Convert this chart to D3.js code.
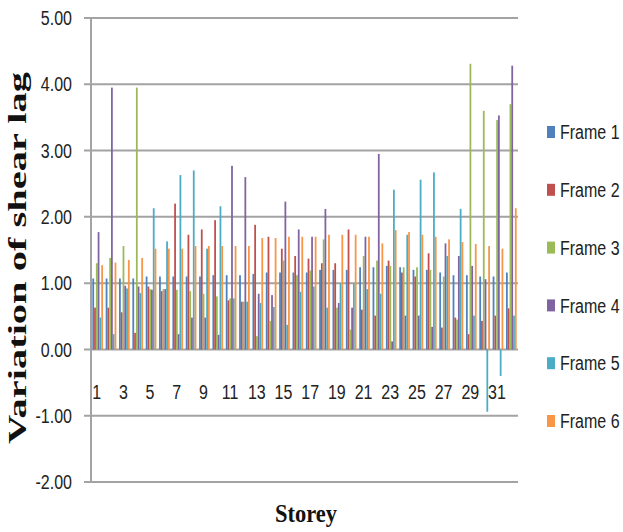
<!DOCTYPE html>
<html><head><meta charset="utf-8">
<script src="https://cdn.jsdelivr.net/npm/d3@7"></script>
<style>html,body{margin:0;padding:0;background:#fff;}svg{display:block;}</style>
</head><body>
<script>
const storeys = d3.range(1, 33).map(String);
const frames = ["Frame 1","Frame 2","Frame 3","Frame 4","Frame 5","Frame 6"];
const colors = ["#4F81BD","#C0504D","#9BBB59","#8064A2","#4BACC6","#F79646"];
const frame1 = [1.07,1.07,1.07,1.07,1.10,1.10,1.10,1.10,1.10,1.12,1.12,1.12,1.14,1.16,1.16,1.16,1.16,1.20,1.20,1.20,1.24,1.24,1.26,1.24,1.20,1.20,1.16,1.12,1.12,1.10,1.10,1.16];
const frame2 = [0.63,0.63,0.56,0.25,0.95,0.88,2.20,1.73,1.81,1.95,0.74,0.72,1.88,1.70,1.52,1.41,1.37,1.30,1.30,1.81,0.60,0.51,1.34,1.16,1.10,1.45,0.33,0.48,0.23,0.43,0.51,0.62];
const frame3 = [1.30,1.38,1.56,3.95,0.91,0.91,0.90,0.88,0.84,0.80,0.77,0.72,0.20,0.43,1.34,1.12,1.19,1.66,0.63,0.30,1.41,1.34,1.26,1.24,1.24,1.20,1.10,0.45,4.31,3.60,3.46,3.70];
const frame4 = [1.77,3.95,0.96,0.95,0.90,0.91,0.23,0.48,0.48,0.22,2.77,2.60,0.84,0.82,2.23,1.81,1.70,2.12,0.70,0.63,1.70,2.95,0.12,0.51,0.51,0.34,1.60,1.41,1.26,1.06,3.53,4.28];
const frame5 = [0.48,0.23,0.92,0.85,2.13,1.63,2.63,2.70,1.52,2.16,0.77,0.72,0.70,0.64,0.37,0.87,0.95,0.63,1.00,1.00,0.91,0.84,2.41,1.73,2.56,2.67,1.41,2.12,0.51,-0.94,-0.40,0.51];
const frame6 = [1.27,1.31,1.35,1.38,1.52,1.52,1.52,1.56,1.56,1.56,1.56,1.56,1.68,1.68,1.70,1.70,1.70,1.73,1.73,1.73,1.70,1.60,1.80,1.77,1.73,1.70,1.66,1.62,1.59,1.56,1.52,2.13];
const yTicks = [-2,-1,0,1,2,3,4,5];
const xTickLabels = storeys.filter((d,i)=> i % 2 === 0);
const series = [frame1,frame2,frame3,frame4,frame5,frame6];

const W = 623, H = 532;
const pLeft = 91, pRight = 518, pTop = 18, pBottom = 482;
const narrow = 0.8;
const svg = d3.select("body").append("svg").attr("width", W).attr("height", H);

const y = d3.scaleLinear().domain([-2,5]).range([pBottom, pTop]);
const x0 = d3.scaleBand().domain(storeys).range([pLeft, pRight]).paddingInner(0.2).paddingOuter(0.1);
const x1 = d3.scaleBand().domain(frames).range([0, x0.bandwidth()]);

// gridlines
svg.append("g").selectAll("line").data(yTicks).join("line")
  .attr("x1", pLeft - 7).attr("x2", pRight)
  .attr("y1", d => y(d)).attr("y2", d => y(d))
  .attr("stroke", "#a3a3a3").attr("stroke-width", 2);
// vertical axis line
svg.append("line").attr("x1", pLeft).attr("x2", pLeft).attr("y1", y(5)).attr("y2", y(-2))
  .attr("stroke", "#a3a3a3").attr("stroke-width", 2);

// y labels
const labelFont = "'Liberation Sans', Arial, sans-serif";
svg.append("g").selectAll("text").data(yTicks).join("text")
  .attr("transform", d => `translate(72,${y(d)}) scale(${narrow},1)`)
  .attr("dy", "0.36em")
  .attr("text-anchor", "end").attr("font-family", labelFont).attr("font-size", 20)
  .attr("fill", "#222")
  .text(d => (d < 0 ? "-" : "") + Math.abs(d).toFixed(2));

// bars
const groups = svg.append("g").selectAll("g").data(storeys).join("g")
  .attr("transform", d => `translate(${x0(d)},0)`);
groups.selectAll("rect").data((d,i) => series.map((s,j) => ({f: frames[j], v: s[i], c: colors[j]})))
  .join("rect")
  .attr("x", d => x1(d.f)).attr("width", x1.bandwidth())
  .attr("y", d => y(Math.max(0, d.v))).attr("height", d => Math.abs(y(d.v) - y(0)))
  .attr("fill", d => d.c);

// x labels
svg.append("g").selectAll("text").data(xTickLabels).join("text")
  .attr("transform", d => `translate(${x0(d) + x0.bandwidth()/2 - 1},399) scale(${narrow},1)`)
  .attr("text-anchor", "middle").attr("font-family", labelFont).attr("font-size", 20)
  .attr("fill", "#222").text(d => d);

// axis titles
svg.append("text").attr("transform", "translate(26,258) rotate(-90)")
  .attr("text-anchor", "middle").attr("font-family", "'Liberation Serif','Times New Roman',serif")
  .attr("font-weight", "bold").attr("font-size", 25).attr("fill", "#111")
  .attr("textLength", 372).attr("lengthAdjust", "spacingAndGlyphs")
  .text("Variation of shear lag");
svg.append("text").attr("x", 306).attr("y", 522)
  .attr("text-anchor", "middle").attr("font-family", "'Liberation Serif','Times New Roman',serif")
  .attr("font-weight", "bold").attr("font-size", 26).attr("fill", "#111")
  .attr("textLength", 62).attr("lengthAdjust", "spacingAndGlyphs")
  .text("Storey");

// legend
const legY = d3.scalePoint().domain(frames).range([132, 421]);
const leg = svg.append("g").selectAll("g").data(frames).join("g")
  .attr("transform", d => `translate(547,${legY(d)})`);
leg.append("rect").attr("x", 0).attr("y", -6).attr("width", 8).attr("height", 12)
  .attr("fill", (d,i) => colors[i]);
leg.append("text").attr("transform", `translate(13,0) scale(${narrow},1)`).attr("dy", "0.36em")
  .attr("font-family", labelFont).attr("font-size", 20).attr("fill", "#222").text(d => d);
</script>
</body></html>
